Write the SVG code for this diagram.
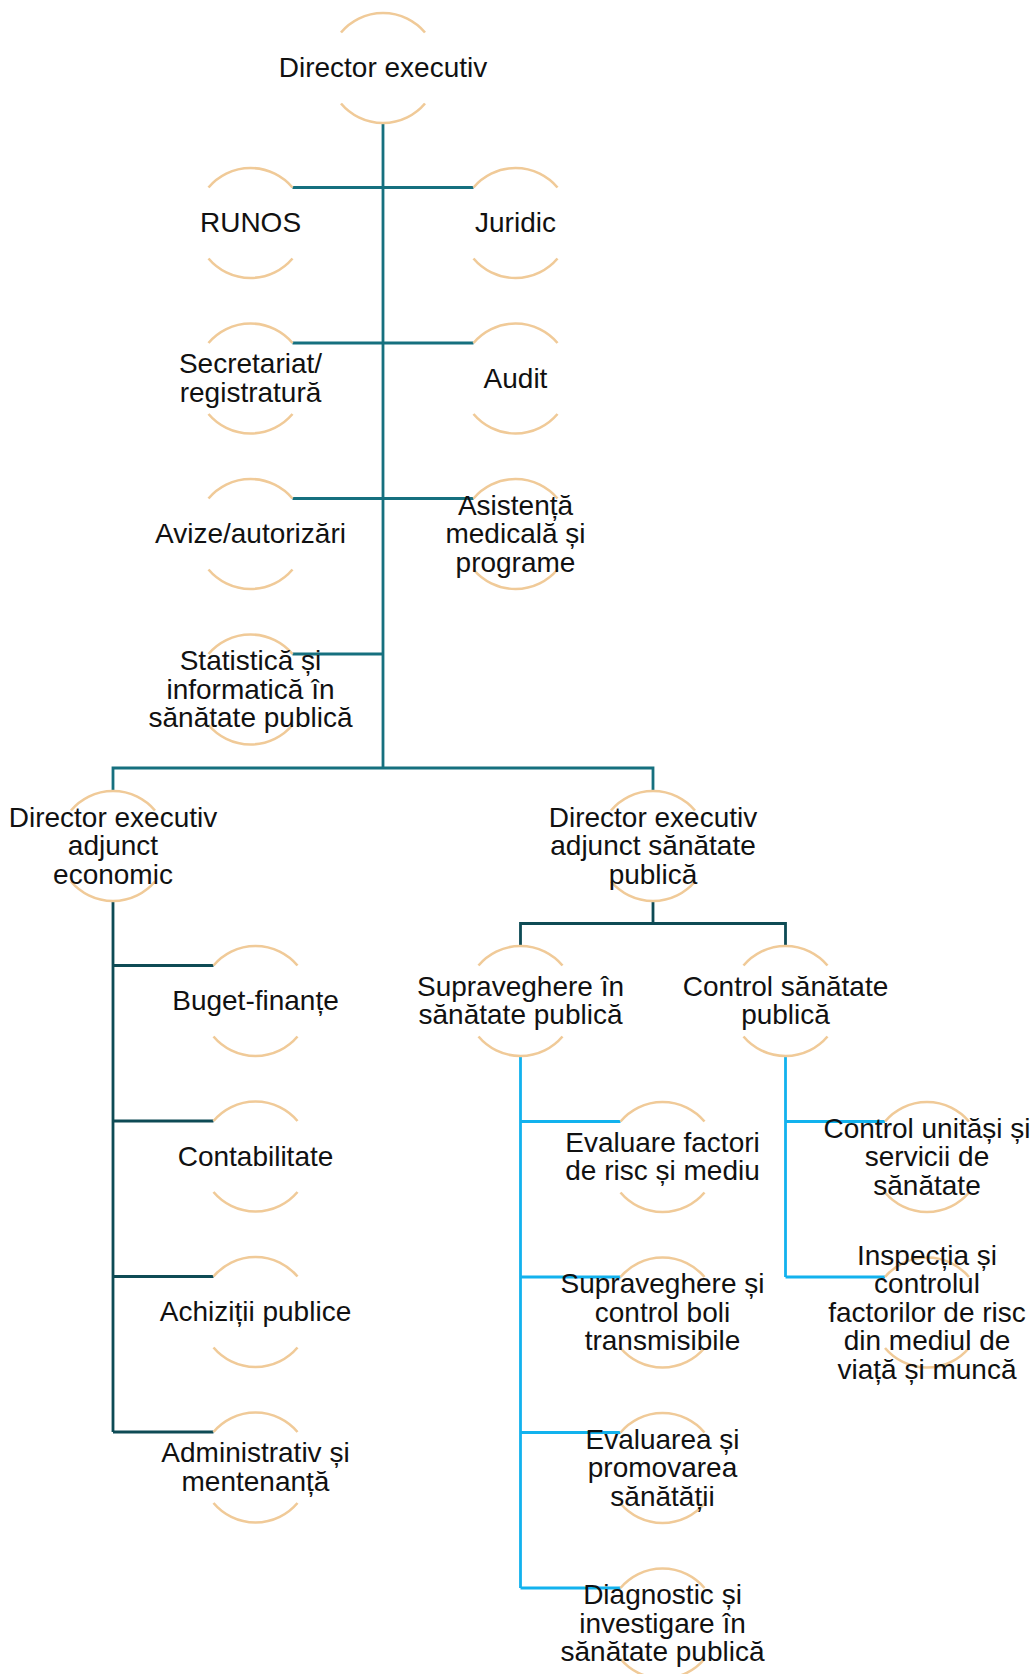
<svg xmlns="http://www.w3.org/2000/svg" xmlns:xlink="http://www.w3.org/1999/xlink" width="1036" height="1674" viewBox="0 0 1036 1674">
<style>
.ring{fill:none;stroke:#F0CA98;stroke-width:2.6}
.lbl{font-family:"Liberation Sans",Arial,sans-serif;font-size:28px;fill:#111;text-anchor:middle}
.c1{fill:none;stroke:#16707F;stroke-width:2.8}
.c2{fill:none;stroke:#0E4B55;stroke-width:2.8}
.c3{fill:none;stroke:#12B2EE;stroke-width:2.8}
</style>
<defs>
<path id="ring" class="ring" d="M-42 -35.5 A55 55 0 0 1 42 -35.5 M-42 35.5 A55 55 0 0 0 42 35.5"/>
</defs>
<rect width="1036" height="1674" fill="#fff"/>
<g id="connectors">
<g class="c1">
<path d="M383 123 V768"/>
<path d="M292.5 187.5 H473.5"/>
<path d="M292.5 343 H473.5"/>
<path d="M292.5 498.5 H473.5"/>
<path d="M292.5 654 H383"/>
<path d="M113 790.5 V768 H653 V790.5"/>
</g>
<g class="c2">
<path d="M113 901 V1432"/>
<path d="M113 965.5 H213.5"/>
<path d="M113 1121 H213.5"/>
<path d="M113 1276.5 H213.5"/>
<path d="M113 1432 H213.5"/>
<path d="M653 901 V923.5"/>
<path d="M520.5 946 V923.5 H785.5 V946"/>
</g>
<g class="c3">
<path d="M520.5 1056 V1588"/>
<path d="M520.5 1121.5 H620.5"/>
<path d="M520.5 1277 H620.5"/>
<path d="M520.5 1432.5 H620.5"/>
<path d="M520.5 1588 H620.5"/>
<path d="M785.5 1056 V1277"/>
<path d="M785.5 1121.5 H885"/>
<path d="M785.5 1277 H885"/>
</g>
</g>
<g id="n-director"><use xlink:href="#ring" x="383" y="68"/><text class="lbl" x="383" y="77">Director executiv</text></g>
<g id="n-runos"><use xlink:href="#ring" x="250.5" y="223"/><text class="lbl" x="250.5" y="232">RUNOS</text></g>
<g id="n-juridic"><use xlink:href="#ring" x="515.5" y="223"/><text class="lbl" x="515.5" y="232">Juridic</text></g>
<g id="n-secretariat"><use xlink:href="#ring" x="250.5" y="378.5"/><text class="lbl" x="250.5" y="373.25">Secretariat/<tspan x="250.5" dy="28.5">registratură</tspan></text></g>
<g id="n-audit"><use xlink:href="#ring" x="515.5" y="378.5"/><text class="lbl" x="515.5" y="387.5">Audit</text></g>
<g id="n-avize"><use xlink:href="#ring" x="250.5" y="534"/><text class="lbl" x="250.5" y="543">Avize/autorizări</text></g>
<g id="n-asistenta"><use xlink:href="#ring" x="515.5" y="534"/><text class="lbl" x="515.5" y="514.5">Asistență<tspan x="515.5" dy="28.5">medicală și</tspan><tspan x="515.5" dy="28.5">programe</tspan></text></g>
<g id="n-statistica"><use xlink:href="#ring" x="250.5" y="689.5"/><text class="lbl" x="250.5" y="670">Statistică și<tspan x="250.5" dy="28.5">informatică în</tspan><tspan x="250.5" dy="28.5">sănătate publică</tspan></text></g>
<g id="n-deae"><use xlink:href="#ring" x="113" y="846"/><text class="lbl" x="113" y="826.5">Director executiv<tspan x="113" dy="28.5">adjunct</tspan><tspan x="113" dy="28.5">economic</tspan></text></g>
<g id="n-deasp"><use xlink:href="#ring" x="653" y="846"/><text class="lbl" x="653" y="826.5">Director executiv<tspan x="653" dy="28.5">adjunct sănătate</tspan><tspan x="653" dy="28.5">publică</tspan></text></g>
<g id="n-buget"><use xlink:href="#ring" x="255.5" y="1001"/><text class="lbl" x="255.5" y="1010">Buget-finanțe</text></g>
<g id="n-contabilitate"><use xlink:href="#ring" x="255.5" y="1156.5"/><text class="lbl" x="255.5" y="1165.5">Contabilitate</text></g>
<g id="n-achizitii"><use xlink:href="#ring" x="255.5" y="1312"/><text class="lbl" x="255.5" y="1321">Achiziții publice</text></g>
<g id="n-administrativ"><use xlink:href="#ring" x="255.5" y="1467.5"/><text class="lbl" x="255.5" y="1462.25">Administrativ și<tspan x="255.5" dy="28.5">mentenanță</tspan></text></g>
<g id="n-supraveghere"><use xlink:href="#ring" x="520.5" y="1001"/><text class="lbl" x="520.5" y="995.75">Supraveghere în<tspan x="520.5" dy="28.5">sănătate publică</tspan></text></g>
<g id="n-control"><use xlink:href="#ring" x="785.5" y="1001"/><text class="lbl" x="785.5" y="995.75">Control sănătate<tspan x="785.5" dy="28.5">publică</tspan></text></g>
<g id="n-evaluare-factori"><use xlink:href="#ring" x="662.5" y="1157"/><text class="lbl" x="662.5" y="1151.75">Evaluare factori<tspan x="662.5" dy="28.5">de risc și mediu</tspan></text></g>
<g id="n-suprav-boli"><use xlink:href="#ring" x="662.5" y="1312.5"/><text class="lbl" x="662.5" y="1293">Supraveghere și<tspan x="662.5" dy="28.5">control boli</tspan><tspan x="662.5" dy="28.5">transmisibile</tspan></text></g>
<g id="n-evaluarea-promovarea"><use xlink:href="#ring" x="662.5" y="1468"/><text class="lbl" x="662.5" y="1448.5">Evaluarea și<tspan x="662.5" dy="28.5">promovarea</tspan><tspan x="662.5" dy="28.5">sănătății</tspan></text></g>
<g id="n-diagnostic"><use xlink:href="#ring" x="662.5" y="1623.5"/><text class="lbl" x="662.5" y="1604">Diagnostic și<tspan x="662.5" dy="28.5">investigare în</tspan><tspan x="662.5" dy="28.5">sănătate publică</tspan></text></g>
<g id="n-control-unitati"><use xlink:href="#ring" x="927" y="1157"/><text class="lbl" x="927" y="1137.5">Control unităși și<tspan x="927" dy="28.5">servicii de</tspan><tspan x="927" dy="28.5">sănătate</tspan></text></g>
<g id="n-inspectia"><use xlink:href="#ring" x="927" y="1312.5"/><text class="lbl" x="927" y="1264.5">Inspecția și<tspan x="927" dy="28.5">controlul</tspan><tspan x="927" dy="28.5">factorilor de risc</tspan><tspan x="927" dy="28.5">din mediul de</tspan><tspan x="927" dy="28.5">viață și muncă</tspan></text></g>
</svg>
